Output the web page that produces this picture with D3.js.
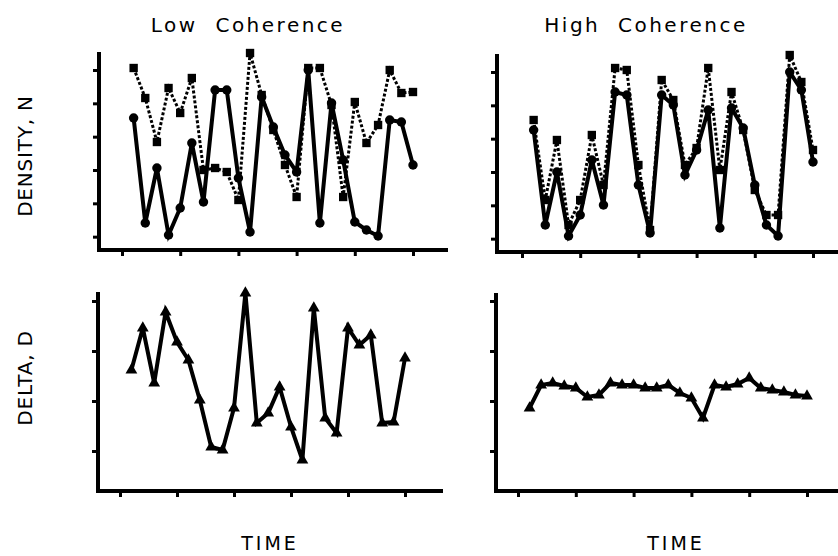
<!DOCTYPE html>
<html>
<head>
<meta charset="utf-8">
<script src="https://cdn.jsdelivr.net/npm/d3@7"></script>
<style>
  body { margin: 0; background: #fff; }
  text { font-family: "DejaVu Sans", sans-serif; fill: #000; white-space: pre; }
</style>
</head>
<body>
<div class="chart"></div>
<script>
// sample times and tick positions (ticks are unlabeled)
const time = [1, 2, 3, 4, 5, 6, 7, 8, 9, 10, 11, 12, 13, 14, 15, 16, 17, 18, 19, 20, 21, 22, 23, 24, 25];
const timeTicks = [0, 5, 10, 15, 20, 25];
const densityTicks = [0.4, 1.4, 2.4, 3.4, 4.4, 5.4];
const deltaTicks = [1, 2, 3, 4];

// density N, low coherence: circles (solid) and squares (dashed)
const lowCircle = [3.96, 0.81, 2.46, 0.45, 1.26, 3.21, 1.44, 4.80, 4.80, 2.16, 0.54, 4.59, 3.69,
                   2.85, 2.34, 5.40, 0.81, 4.41, 2.70, 0.84, 0.60, 0.42, 3.90, 3.84, 2.55];
const lowSquare = [5.46, 4.56, 3.24, 4.86, 4.11, 5.16, 2.40, 2.46, 2.34, 1.50, 5.91, 4.65, 3.60,
                   2.55, 1.59, 5.46, 5.46, 4.35, 1.59, 4.44, 3.21, 3.75, 5.40, 4.71, 4.74];

// density N, high coherence
const highCircle = [3.66, 0.81, 2.40, 0.48, 1.11, 2.76, 1.41, 4.80, 4.71, 2.01, 0.57, 4.71, 4.41,
                    2.31, 3.06, 4.26, 0.72, 4.32, 3.72, 2.01, 0.81, 0.48, 5.40, 4.86, 2.70];
const highSquare = [3.96, 1.56, 3.36, 0.81, 1.56, 3.51, 2.01, 5.52, 5.46, 2.61, 0.66, 5.16, 4.56,
                    2.61, 3.12, 5.52, 2.46, 4.80, 3.66, 1.86, 1.11, 1.11, 5.91, 5.10, 3.06];

// delta D
const lowDelta = [2.62, 3.46, 2.36, 3.78, 3.18, 2.82, 2.02, 1.08, 1.02, 1.86, 4.16, 1.56, 1.76,
                  2.28, 1.48, 0.82, 3.86, 1.66, 1.36, 3.46, 3.12, 3.32, 1.56, 1.58, 2.86];
const highDelta = [1.86, 2.32, 2.36, 2.30, 2.26, 2.08, 2.12, 2.36, 2.32, 2.32, 2.26, 2.26, 2.32,
                   2.16, 2.06, 1.66, 2.32, 2.28, 2.34, 2.46, 2.26, 2.22, 2.18, 2.12, 2.10];

const svg = d3.select(".chart").append("svg")
  .attr("width", 838)
  .attr("height", 556);

function drawPanel(p) {
  const x = d3.scaleLinear().domain([0, 25]).range([p.x0, p.x1]);
  const y = d3.scaleLinear().domain(p.yDomain).range([p.bottom, p.bottom - 200]);

  const g = svg.append("g");

  // frame
  g.append("line")
    .attr("x1", p.left).attr("x2", p.left)
    .attr("y1", p.top).attr("y2", p.bottom + 2)
    .attr("stroke", "#000").attr("stroke-width", 4);
  g.append("line")
    .attr("x1", p.left - 2).attr("x2", p.right)
    .attr("y1", p.bottom).attr("y2", p.bottom)
    .attr("stroke", "#000").attr("stroke-width", 4);

  const xAxis = d3.axisBottom(x).tickValues(timeTicks).tickSize(4).tickFormat("");
  const yAxis = d3.axisLeft(y).tickValues(p.yTicks).tickSize(4).tickFormat("");

  g.append("g")
    .attr("transform", "translate(0," + (p.bottom + 2) + ")")
    .call(xAxis);
  g.append("g")
    .attr("transform", "translate(" + (p.left - 2) + ",0)")
    .call(yAxis);
  g.selectAll(".domain").remove();
  g.selectAll(".tick line").attr("stroke", "#000").attr("stroke-width", 3);

  const line = d3.line()
    .x((d, i) => x(time[i]))
    .y(d => y(d));

  p.series.forEach(s => {
    g.append("path")
      .datum(s.values)
      .attr("fill", "none")
      .attr("stroke", "#000")
      .attr("stroke-width", s.dash ? 3 : 4)
      .attr("stroke-dasharray", s.dash ? "3,2" : null)
      .attr("d", line);

    g.selectAll(null)
      .data(s.values)
      .enter()
      .append("path")
      .attr("transform", (d, i) => "translate(" + x(time[i]) + "," + y(d) + ")")
      .attr("d", d3.symbol().type(s.symbol).size(s.size))
      .attr("fill", "#000");
  });
}

drawPanel({left: 99, right: 448, top: 52, bottom: 250, x0: 122, x1: 413,
  yDomain: [0, 6], yTicks: densityTicks,
  series: [
    {values: lowSquare, symbol: d3.symbolSquare, size: 70, dash: true},
    {values: lowCircle, symbol: d3.symbolCircle, size: 70, dash: false}
  ]});

drawPanel({left: 497, right: 838, top: 54, bottom: 252, x0: 522, x1: 813,
  yDomain: [0, 6], yTicks: densityTicks,
  series: [
    {values: highSquare, symbol: d3.symbolSquare, size: 70, dash: true},
    {values: highCircle, symbol: d3.symbolCircle, size: 70, dash: false}
  ]});

drawPanel({left: 98, right: 443, top: 292, bottom: 491, x0: 120, x1: 405,
  yDomain: [0.2, 4.2], yTicks: deltaTicks,
  series: [
    {values: lowDelta, symbol: d3.symbolTriangle, size: 60, dash: false}
  ]});

drawPanel({left: 496, right: 838, top: 293, bottom: 491, x0: 518, x1: 807,
  yDomain: [0.2, 4.2], yTicks: deltaTicks,
  series: [
    {values: highDelta, symbol: d3.symbolTriangle, size: 60, dash: false}
  ]});

// titles and axis labels
svg.append("text")
  .attr("x", 248).attr("y", 32)
  .attr("text-anchor", "middle")
  .style("font-size", "20px").style("letter-spacing", "2.5px")
  .text("Low  Coherence");

svg.append("text")
  .attr("x", 646).attr("y", 32)
  .attr("text-anchor", "middle")
  .style("font-size", "20px").style("letter-spacing", "2.5px")
  .text("High  Coherence");

svg.append("text")
  .attr("transform", "translate(32,156) rotate(-90)")
  .attr("text-anchor", "middle")
  .style("font-size", "20px").style("letter-spacing", "0.8px")
  .text("DENSITY, N");

svg.append("text")
  .attr("transform", "translate(32,378) rotate(-90)")
  .attr("text-anchor", "middle")
  .style("font-size", "20px").style("letter-spacing", "0.8px")
  .text("DELTA, D");

svg.append("text")
  .attr("x", 270).attr("y", 550)
  .attr("text-anchor", "middle")
  .style("font-size", "19px").style("letter-spacing", "3px")
  .text("TIME");

svg.append("text")
  .attr("x", 676).attr("y", 550)
  .attr("text-anchor", "middle")
  .style("font-size", "19px").style("letter-spacing", "3px")
  .text("TIME");
</script>
</body>
</html>
